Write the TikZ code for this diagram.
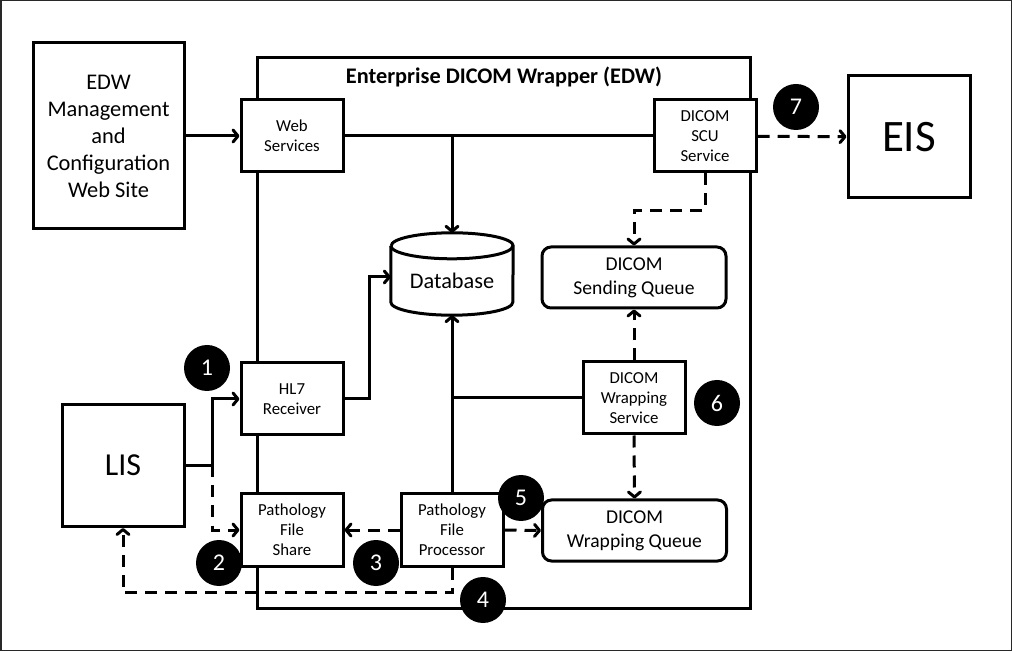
\documentclass[tikz,border=0pt]{standalone}
\usepackage{fontspec}
\setmainfont{Carlito}
\usepackage{tikz}
\usetikzlibrary{arrows.meta,positioning,calc}
\definecolor{frameC}{RGB}{40,40,40}
\newcommand{\SvcW}{102pt}
\newcommand{\SvcH}{72pt}
\newcommand{\QueW}{184pt}
\newcommand{\QueH}{61pt}
\newcommand{\SysW}{122pt}
\newcommand{\DbRx}{61pt}
\newcommand{\DbRy}{13pt}
\tikzset{
    line/.style   = {line width=3pt, -{Straight Barb[length=5pt,width=12pt,round]}},
    plain/.style  = {line width=3pt},
    dline/.style  = {line, dash pattern=on 12pt off 8pt},
    block/.style  = {draw, line width=3pt, fill=white,
            minimum width=\SvcW, minimum height=\SvcH,
            align=center, inner sep=0pt, font=\fontsize{16.8}{20}\selectfont},
    queue/.style  = {block, rounded corners=9pt,
            minimum width=\QueW, minimum height=\QueH,
            font=\fontsize{19.6}{24}\selectfont},
    system/.style = {block, minimum width=\SysW, minimum height=\SysW},
    badge/.style  = {circle, fill=black, text=white, minimum size=46pt,
            inner sep=0pt, font=\fontsize{24}{24}\selectfont},
}

\begin{document}
\begin{tikzpicture}[x=1pt,y=1pt]
    \useasboundingbox (0,0) rectangle (1012,651);
    \draw[frameC, line width=1.5pt] (0.75,0.75) rectangle (1011.25,650.25);

    % EDW frame
    \draw[plain] (257,43) rectangle (750,593);
    \node[font=\bfseries\fontsize{22.3}{24}\selectfont] (title) at (504,574) {Enterprise DICOM Wrapper (EDW)};

    % outside systems
    \node[block, minimum width=151pt, minimum height=186pt,
          font=\fontsize{22.4}{27}\selectfont] (mgmt) at (108.5,515)
          {EDW\\Management\\and\\Configuration\\Web Site};
    \node[system, font=\fontsize{45}{45}\selectfont] (eis) at (909,514) {EIS};
    \node[system, font=\fontsize{32}{32}\selectfont] (lis) at (123,185.5) {LIS};

    % services
    \node[block] (web)   at (292,515) {Web\\Services};
    \node[block] (scu)   at (705,515) {DICOM\\SCU\\Service};
    \node[block] (hl7)   at (292,252) {HL7\\Receiver};
    \node[block] (share) at (292,121) {Pathology\\File\\Share};
    \node[block] (proc)  at (452,121) {Pathology\\File\\Processor};
    \node[block] (ws)    at (634,253) {DICOM\\Wrapping\\Service};

    % queues
    \node[queue] (sq) at (634,373.5) {DICOM\\Sending Queue};
    \node[queue] (wq) at (634.5,120.5) {DICOM\\Wrapping Queue};

    % database
    \node[minimum width=2*\DbRx, minimum height=82pt, inner sep=0pt,
          font=\fontsize{22.3}{24}\selectfont] (db) at (452,377) {\raisebox{-15pt}[0pt][0pt]{Database}};
    \draw[plain] ($(db.north west)+(0,-\DbRy)$) -- ($(db.south west)+(0,\DbRy)$)
        arc[start angle=180, end angle=360, x radius=\DbRx, y radius=\DbRy]
        -- ($(db.north east)+(0,-\DbRy)$)
        arc[start angle=0, end angle=180, x radius=\DbRx, y radius=\DbRy];
    \draw[plain] ($(db.north west)+(0,-\DbRy)$)
        arc[start angle=180, end angle=360, x radius=\DbRx, y radius=\DbRy];

    % solid links
    \draw[line] (mgmt) -- (web);
    \draw[plain] (web) -- (scu);
    \draw[line] (web.east -| db.north) -- (db.north);
    \coordinate (lisSplit) at ($(lis.east)+(27,0)$);
    \draw[line] (lis.east) -- (lisSplit) |- (hl7.west);
    \draw[line] (hl7.east) -- ++(25,0) |- ($(db.west)+(0,-3)$);
    \draw[line] (proc.north) -- (db.south);
    \draw[plain] (proc.north |- ws.west) -- (ws.west);

    % dashed links
    \draw[dline] (scu) -- (eis);
    \draw[dline] (scu.south) -- ++(0,-37) -| (sq.north);
    \draw[dline] (ws.north) -- (sq.south);
    \draw[dline] (ws.south) -- (wq.north);
    \draw[dline] (lisSplit) |- (share.west);
    \draw[dline] (proc.west) -- (share.east);
    \draw[dline] (proc.east) -- (wq.west);
    \draw[dline] (proc.south) -- ++(0,-25) -| (lis.south);

    % step badges
    \node[badge] (n1) at (207,283) {1};
    \node[badge] (n2) at (219,88) {2};
    \node[badge] (n3) at (376,88) {3};
    \node[badge] (n4) at (483,51) {4};
    \node[badge] (n5) at (521,153) {5};
    \node[badge] (n6) at (717,248) {6};
    \node[badge] (n7) at (796,544) {7};
\end{tikzpicture}
\end{document}
